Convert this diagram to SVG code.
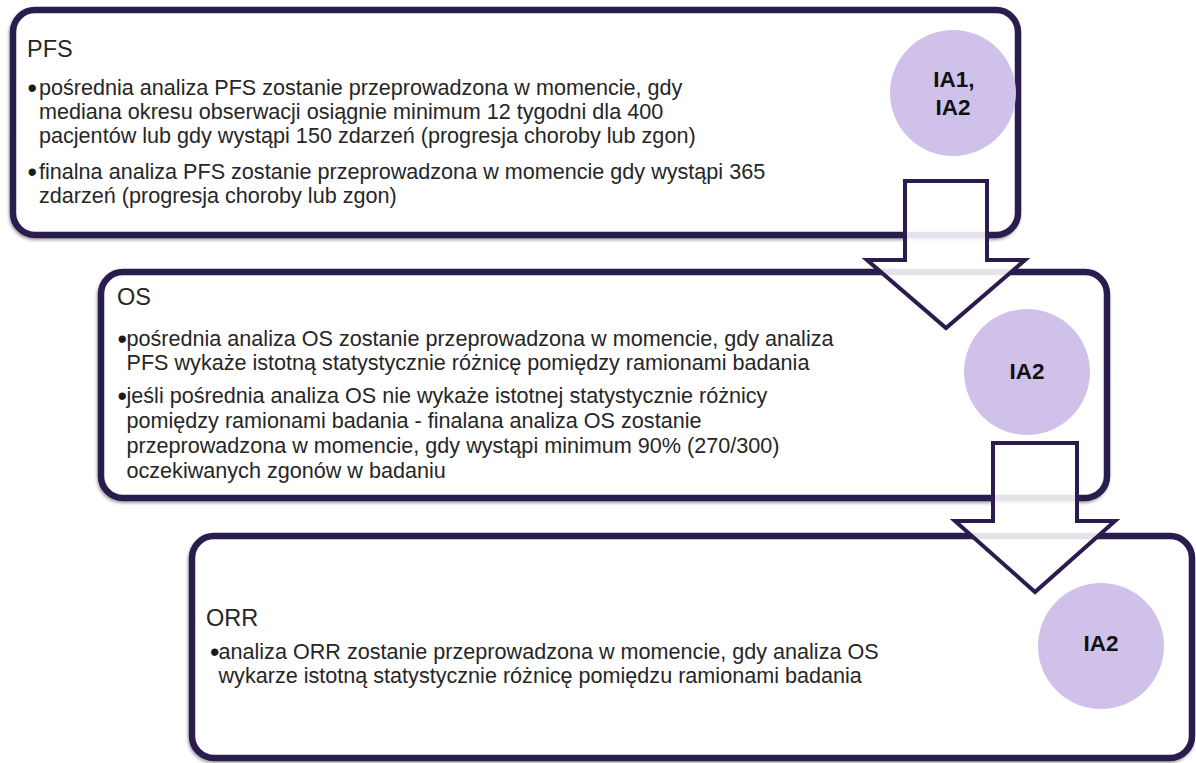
<svg xmlns="http://www.w3.org/2000/svg" width="1196" height="763" viewBox="0 0 1196 763">
<defs>
<filter id="sh" x="-5%" y="-5%" width="110%" height="115%">
<feGaussianBlur in="SourceAlpha" stdDeviation="1.5"/>
<feOffset dx="-1" dy="2" result="b"/>
<feComponentTransfer><feFuncA type="linear" slope="0.35"/></feComponentTransfer>
<feMerge><feMergeNode/><feMergeNode in="SourceGraphic"/></feMerge>
</filter>
</defs>
<style>
.box{fill:#ffffff;stroke:#2b1b4e;stroke-width:6.5}
.arrow{fill:#ffffff;fill-opacity:0.88;stroke:#2b1b4e;stroke-width:4;stroke-linejoin:miter}
.circ{fill:#cfc1ea}
.title{font-family:"Liberation Sans",Arial,sans-serif;font-size:23.5px;fill:#262626}
.body{font-family:"Liberation Sans",Arial,sans-serif;font-size:21.6px;fill:#262626}
.bul{font-family:"Liberation Sans",Arial,sans-serif;font-size:27px;fill:#1a1a1a}
.ia{font-family:"Liberation Sans",Arial,sans-serif;font-size:22.5px;font-weight:bold;fill:#111111;text-anchor:middle}
</style>
<rect width="1196" height="763" fill="#ffffff"/>

<g id="node-pfs">
<rect class="box" x="13" y="10" width="1005" height="225" rx="22" filter="url(#sh)"/>
<text class="title" x="27" y="57">PFS</text>
<text class="bul" x="27.5" y="96.5">•</text>
<text class="body" x="39" y="94.5">pośrednia analiza PFS zostanie przeprowadzona w momencie, gdy</text>
<text class="body" x="39" y="119">mediana okresu obserwacji osiągnie minimum 12 tygodni dla 400</text>
<text class="body" x="39" y="143">pacjentów lub gdy wystąpi 150 zdarzeń (progresja choroby lub zgon)</text>
<text class="bul" x="27.5" y="181">•</text>
<text class="body" x="39" y="179">finalna analiza PFS zostanie przeprowadzona w momencie gdy wystąpi 365</text>
<text class="body" x="39" y="203">zdarzeń (progresja choroby lub zgon)</text>
</g>
<g id="node-ia-pfs">
<circle class="circ" cx="953" cy="93" r="63"/>
<text class="ia" x="954" y="87">IA1,</text>
<text class="ia" x="953" y="115">IA2</text>
</g>

<g id="node-os">
<rect class="box" x="101" y="272" width="1006" height="226" rx="22" filter="url(#sh)"/>
<text class="title" x="117" y="305">OS</text>
<text class="bul" x="117.5" y="348">•</text>
<text class="body" x="126.5" y="346">pośrednia analiza OS zostanie przeprowadzona w momencie, gdy analiza</text>
<text class="body" x="126.5" y="370">PFS wykaże istotną statystycznie różnicę pomiędzy ramionami badania</text>
<text class="bul" x="117.5" y="405">•</text>
<text class="body" x="126.5" y="403">jeśli pośrednia analiza OS nie wykaże istotnej statystycznie różnicy</text>
<text class="body" x="126.5" y="428">pomiędzy ramionami badania - finalana analiza OS zostanie</text>
<text class="body" x="126.5" y="453">przeprowadzona w momencie, gdy wystąpi minimum 90% (270/300)</text>
<text class="body" x="126.5" y="478">oczekiwanych zgonów w badaniu</text>
</g>
<g id="node-ia-os">
<circle class="circ" cx="1027" cy="372" r="63"/>
<text class="ia" x="1027" y="379">IA2</text>
</g>

<g id="connectors">
<polygon id="arrow-1" class="arrow" points="905,181 987,181 987,260 1025,260 946,328 867,260 905,260"/>
</g>

<g id="node-orr">
<rect class="box" x="192" y="536" width="1000" height="222" rx="22" filter="url(#sh)"/>
<text class="title" x="206" y="626">ORR</text>
<text class="bul" x="210" y="661">•</text>
<text class="body" x="218.5" y="659">analiza ORR zostanie przeprowadzona w momencie, gdy analiza OS</text>
<text class="body" x="218.5" y="683">wykarze istotną statystycznie różnicę pomiędzu ramionami badania</text>
</g>
<g id="node-ia-orr">
<circle class="circ" cx="1101" cy="646" r="63"/>
<text class="ia" x="1101" y="651">IA2</text>
</g>

<g id="connectors-2">
<polygon id="arrow-2" class="arrow" points="993,443 1077,443 1077,521 1115,521 1035,592 955,521 993,521"/>
</g>
</svg>
